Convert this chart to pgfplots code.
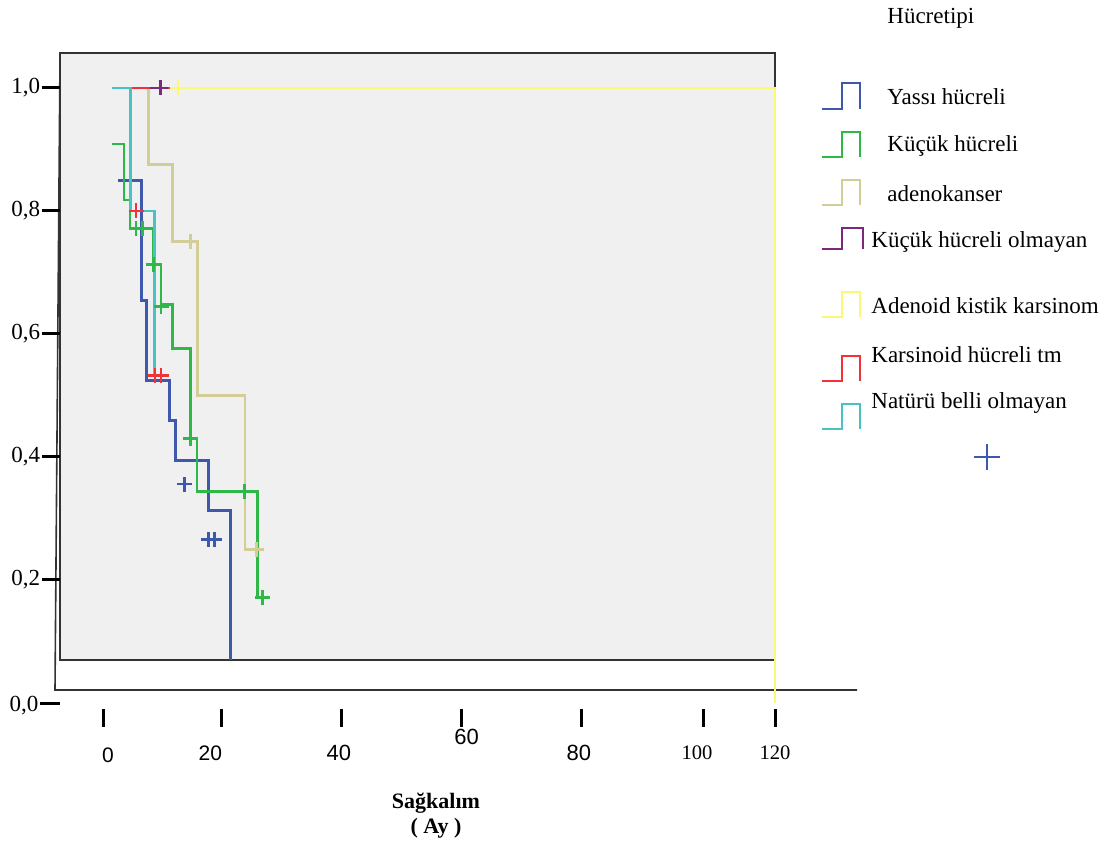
\documentclass[border=0pt]{standalone}
\usepackage{pgfplots}
\pgfplotsset{compat=1.18}
\usepackage{fontspec}
\setmainfont{Liberation Serif}
\newfontfamily\sansf{Liberation Sans}
\definecolor{cblue}{HTML}{3E58AC}
\definecolor{cgreen}{HTML}{2EB848}
\definecolor{ctan}{HTML}{D3CE97}
\definecolor{cpurple}{HTML}{7B287D}
\definecolor{cyellow}{HTML}{FBF873}
\definecolor{cred}{HTML}{EF3338}
\definecolor{ccyan}{HTML}{48C2C5}
\definecolor{panel}{HTML}{F0F0F0}
\tikzset{ytl/.style={anchor=east, inner sep=0pt, font=\fontsize{11.5}{13}\selectfont},
  tk/.style={black, line width=1.5pt},
  lg/.style={anchor=west, inner sep=0pt, font=\fontsize{11.5}{13}\selectfont},
  ls/.style={line width=1.4pt}}
\begin{document}
\begin{tikzpicture}
\begin{axis}[
  scale only axis, width=555pt, height=420.5pt,
  xmin=-17.1667, xmax=167.8333, ymin=-0.22439, ymax=1.143089,
  axis line style={draw=none}, xtick=\empty, ytick=\empty, clip=false,
  every axis plot/.append style={line width=1.4pt},
]
% outer frame and panel
\draw[black!80, line width=0.8pt] (axis cs:-7.17,1.0455) -- (axis cs:-8,0.0211) -- (axis cs:125.67,0.0211);
\draw[fill=panel, draw=black!80, line width=0.8pt] (axis cs:-7.17,0.070) rectangle (axis cs:112,1.057);
% y ticks
\draw[tk] (axis cs:-10.2,1.0) -- (axis cs:-7.17,1.0);
\draw[tk] (axis cs:-10.2,0.8) -- (axis cs:-7.17,0.8);
\draw[tk] (axis cs:-10.2,0.6) -- (axis cs:-7.17,0.6);
\draw[tk] (axis cs:-10.2,0.4) -- (axis cs:-7.17,0.4);
\draw[tk] (axis cs:-10.2,0.2) -- (axis cs:-7.17,0.2);
\draw[tk] (axis cs:-10.5,-0.0016) -- (axis cs:-7.17,-0.0016);
\node[ytl] at (axis cs:-10.4,1.0) {1,0};
\node[ytl] at (axis cs:-10.4,0.8) {0,8};
\node[ytl] at (axis cs:-10.4,0.6) {0,6};
\node[ytl] at (axis cs:-10.4,0.4) {0,4};
\node[ytl] at (axis cs:-10.4,0.2) {0,2};
\node[ytl] at (axis cs:-10.7,-0.005) {0,0};
% x ticks
\draw[tk] (axis cs:0,-0.0098) -- (axis cs:0,-0.039);
\draw[tk] (axis cs:19.7,-0.0098) -- (axis cs:19.7,-0.039);
\draw[tk] (axis cs:39.8,-0.0098) -- (axis cs:39.8,-0.039);
\draw[tk] (axis cs:59.8,-0.0098) -- (axis cs:59.8,-0.039);
\draw[tk] (axis cs:79.8,-0.0098) -- (axis cs:79.8,-0.039);
\draw[tk] (axis cs:100,-0.0098) -- (axis cs:100,-0.039);
\draw[tk] (axis cs:112,-0.0098) -- (axis cs:112,-0.039);
\node[font=\sansf\fontsize{10.5}{12}\selectfont] at (axis cs:0.83,-0.0846) {0};
\node[font=\sansf\fontsize{10.5}{12}\selectfont] at (axis cs:17.9,-0.0813) {20};
\node[font=\sansf\fontsize{11}{12}\selectfont] at (axis cs:39.3,-0.0813) {40};
\node[font=\sansf\fontsize{11}{12}\selectfont] at (axis cs:60.6,-0.0553) {60};
\node[font=\sansf\fontsize{11}{12}\selectfont] at (axis cs:79.3,-0.0813) {80};
\node[font=\fontsize{10.3}{12}\selectfont] at (axis cs:99,-0.0813) {100};
\node[font=\fontsize{10.3}{12}\selectfont] at (axis cs:112,-0.0813) {120};
\node[font=\bfseries\fontsize{11}{13}\selectfont] at (axis cs:55.5,-0.1626) {Sağkalım};
\node[font=\bfseries\fontsize{11}{13}\selectfont] at (axis cs:55.5,-0.2033) {( Ay )};

% Yassı hücreli (blue)
\addplot[cblue, no marks] coordinates {(2.5,0.850)(6.38,0.850)(6.38,0.654)(7.28,0.654)(7.28,0.524)(11.05,0.524)(11.05,0.459)(12.05,0.459)(12.05,0.394)(17.55,0.394)(17.55,0.313)(21.28,0.313)(21.28,0.070)};
\addplot[cblue, only marks, mark=+, mark size=3.75pt] coordinates {(13.62,0.356)(17.55,0.266)(18.55,0.266)};
% Küçük hücreli (green)
\addplot[cgreen, no marks] coordinates {(1.45,0.909)(3.5,0.909)(3.5,0.818)(4.5,0.818)(4.5,0.772)(8.45,0.772)(8.45,0.713)(9.67,0.713)(9.67,0.648)(11.62,0.648)(11.62,0.576)(14.62,0.576)(14.62,0.430)(15.67,0.430)(15.67,0.344)(25.72,0.344)(25.72,0.171)(27.5,0.171)};
\addplot[cgreen, only marks, mark=+, mark size=3.75pt] coordinates {(5.5,0.772)(6.55,0.772)(8.45,0.713)(9.67,0.645)(14.62,0.430)(23.62,0.344)(26.62,0.171)};
% adenokanser (tan)
\addplot[ctan, no marks] coordinates {(1.5,1.0)(7.62,1.0)(7.62,0.875)(11.62,0.875)(11.62,0.75)(15.72,0.75)(15.72,0.5)(23.67,0.5)(23.67,0.25)(26.67,0.25)};
\addplot[ctan, only marks, mark=+, mark size=3.75pt] coordinates {(14.55,0.75)(25.62,0.25)};
% Adenoid kistik karsinom (yellow)
\addplot[cyellow, no marks] coordinates {(1.5,1.0)(112,1.0)(112,0.0)};
\addplot[cyellow, only marks, mark=+, mark size=3.75pt] coordinates {(12.5,1.0)};
% Karsinoid hücreli tm (red)
\addplot[cred, no marks] coordinates {(4.5,1.0)(11.17,1.0)};
\addplot[cred, no marks] coordinates {(4.33,0.8)(8.5,0.8)(8.5,0.533)(10.83,0.533)};
% Küçük hücreli olmayan (purple)
\addplot[cpurple, no marks] coordinates {(7.83,1.0)(10.5,1.0)};
\addplot[cpurple, only marks, mark=+, mark size=3.75pt] coordinates {(9.62,1.0)};
% Natürü belli olmayan (cyan)
\addplot[ccyan, no marks] coordinates {(1.5,1.0)(4.62,1.0)(4.62,0.8)(8.58,0.8)(8.58,0.533)(9.0,0.533)};
\addplot[cred, only marks, mark=+, mark size=3.75pt] coordinates {(5.5,0.8)(8.67,0.533)(9.67,0.533)};

% legend
\node[lg] at (axis cs:130.67,1.1138) {Hücretipi};
\draw[cblue, ls] (axis cs:119.83,0.9659) -- (axis cs:123.17,0.9659) -- (axis cs:123.17,1.0081) -- (axis cs:126.17,1.0081) -- (axis cs:126.17,0.9659);
\node[lg] at (axis cs:130.67,0.9854) {Yassı hücreli};
\draw[cgreen, ls] (axis cs:119.83,0.8878) -- (axis cs:123.17,0.8878) -- (axis cs:123.17,0.9285) -- (axis cs:126.17,0.9285) -- (axis cs:126.17,0.8878);
\node[lg] at (axis cs:130.67,0.9057) {Küçük hücreli};
\draw[ctan, ls] (axis cs:119.83,0.8098) -- (axis cs:123.17,0.8098) -- (axis cs:123.17,0.8504) -- (axis cs:126.17,0.8504) -- (axis cs:126.17,0.8098);
\node[lg] at (axis cs:130.67,0.8276) {adenokanser};
\draw[cpurple, ls] (axis cs:119.83,0.7382) -- (axis cs:123.17,0.7382) -- (axis cs:123.17,0.7724) -- (axis cs:126.67,0.7724) -- (axis cs:126.67,0.7382);
\node[lg] at (axis cs:128.0,0.7496) {Küçük hücreli olmayan};
\draw[cyellow, ls] (axis cs:119.83,0.6276) -- (axis cs:123.17,0.6276) -- (axis cs:123.17,0.6683) -- (axis cs:126.17,0.6683) -- (axis cs:126.17,0.6276);
\node[lg] at (axis cs:128.0,0.6455) {Adenoid kistik karsinom};
\draw[cred, ls] (axis cs:119.83,0.5236) -- (axis cs:123.17,0.5236) -- (axis cs:123.17,0.5642) -- (axis cs:126.17,0.5642) -- (axis cs:126.17,0.5236);
\node[lg] at (axis cs:128.0,0.5659) {Karsinoid hücreli tm};
\draw[ccyan, ls] (axis cs:119.83,0.4455) -- (axis cs:123.17,0.4455) -- (axis cs:123.17,0.4862) -- (axis cs:126.17,0.4862) -- (axis cs:126.17,0.4455);
\node[lg] at (axis cs:128.0,0.4878) {Natürü belli olmayan};
\draw[cblue, ls] (axis cs:145.16,0.4) -- (axis cs:149.5,0.4);
\draw[cblue, ls] (axis cs:147.33,0.379) -- (axis cs:147.33,0.421);
\end{axis}
\end{tikzpicture}
\end{document}
